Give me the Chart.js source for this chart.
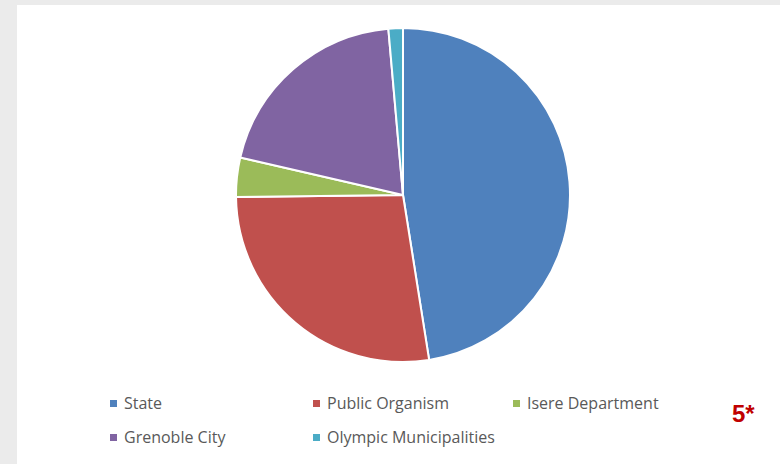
<!DOCTYPE html>
<html>
<head>
<meta charset="utf-8">
<script src="https://cdn.jsdelivr.net/npm/chart.js@4"></script>
<style>
  html, body { margin: 0; padding: 0; }
  body { width: 780px; height: 464px; background: #ebebeb; position: relative; overflow: hidden; font-family: "Open Sans", Lato, sans-serif; }
  #panel { position: absolute; left: 17px; top: 5px; right: 0; bottom: 0; background: #fff; }
  #wrap { position: absolute; left: 235px; top: 27px; width: 336px; height: 336px; }
  .item { position: absolute; font-size: 16px; color: #595959; line-height: 18px; white-space: nowrap; }
  .item span.box { display: inline-block; width: 7px; height: 7px; margin-right: 7px; vertical-align: 2px; }
  #note { position: absolute; left: 732px; top: 400px; color: #c00000; font-weight: bold; font-size: 24px; font-family: "Liberation Sans", sans-serif; }
</style>
</head>
<body>
<div id="panel"></div>
<div id="wrap"><canvas id="pieChart" width="336" height="336"></canvas></div>
<div id="legend"></div>
<div id="note">5*</div>
<script>
const labels = ['State', 'Public Organism', 'Isere Department', 'Grenoble City', 'Olympic Municipalities'];
const values = [47.5, 27.3, 3.8, 20.0, 1.4];
const colors = ['#4f81bd', '#c0504d', '#9bbb59', '#8064a2', '#4bacc6'];

document.addEventListener('DOMContentLoaded', function() {
    const ctx = document.getElementById('pieChart').getContext('2d');
    new Chart(ctx, {
        type: 'pie',
        data: {
            labels: labels,
            datasets: [{
                data: values,
                backgroundColor: colors,
                borderColor: '#ffffff',
                borderWidth: 2
            }]
        },
        options: {
            responsive: false,
            animation: false,
            plugins: {
                legend: { display: false },
                tooltip: { enabled: false }
            }
        }
    });

    // legend laid out in a 3-column grid like the original
    const legend = document.getElementById('legend');
    const colX = [110, 313, 513];
    const rowY = [394, 428];
    labels.forEach(function(lbl, i) {
        const div = document.createElement('div');
        div.className = 'item';
        div.style.left = colX[i % 3] + 'px';
        div.style.top = rowY[Math.floor(i / 3)] + 'px';
        div.innerHTML = '<span class="box" style="background:' + colors[i] + '"></span>' + lbl;
        legend.appendChild(div);
    });
});
</script>
</body>
</html>
